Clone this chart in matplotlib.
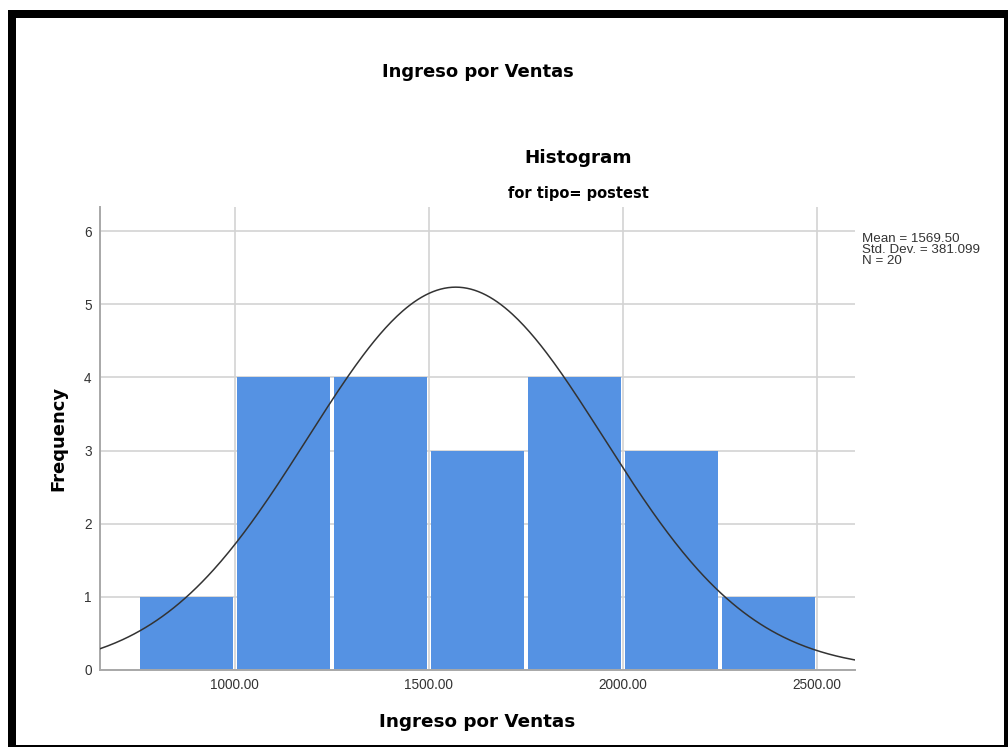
import numpy as np
import matplotlib.pyplot as plt
from matplotlib.lines import Line2D

plt.rcParams['font.family'] = ['Liberation Sans', 'DejaVu Sans']

# histogram of sales income (post test)
bin_edges = [750, 1000, 1250, 1500, 1750, 2000, 2250, 2500]
counts = [1, 4, 4, 3, 4, 3, 1]
mean_val = 1569.50
std_val = 381.099
n_val = 20
x_ticks = [1000, 1500, 2000, 2500]
y_ticks = [0, 1, 2, 3, 4, 5, 6]

fig = plt.figure(figsize=(10.08, 7.47), dpi=100)
ax = fig.add_axes([0.0992, 0.1031, 0.7490, 0.6198])

width = bin_edges[1] - bin_edges[0]
gap = 10
ax.bar(np.array(bin_edges[:-1]) + gap / 2, counts, width=width - gap, align='edge',
       color='#5592e3', linewidth=0, zorder=2)

# normal curve
xs = np.linspace(653, 2598, 400)
ys = n_val * width * np.exp(-0.5 * ((xs - mean_val) / std_val) ** 2) / (std_val * np.sqrt(2 * np.pi))
ax.plot(xs, ys, color='#333333', linewidth=1.1, zorder=3)

ax.set_xlim(653, 2598)
ax.set_ylim(0, 6.33)
ax.set_xticks(x_ticks)
ax.set_xticklabels([f'{t:.2f}' for t in x_ticks], fontsize=9.8, color='#333333')
ax.set_yticks(y_ticks)
ax.set_yticklabels([str(t) for t in y_ticks], fontsize=9.8, color='#333333')
ax.tick_params(length=0, pad=6)
ax.grid(True, color='#d3d3d3', linewidth=1.2)
ax.set_axisbelow(True)
for s in ['top', 'right']:
    ax.spines[s].set_visible(False)
for s in ['left', 'bottom']:
    ax.spines[s].set_color('#a8a8a8')
    ax.spines[s].set_linewidth(1.4)

bold = dict(fontweight='bold', family='DejaVu Sans')
ax.set_xlabel('Ingreso por Ventas', fontsize=13.2, labelpad=15, **bold)
ax.set_ylabel('Frequency', fontsize=13, labelpad=12, **bold)

fig.text(0.474, 0.903, 'Ingreso por Ventas', ha='center', va='center', fontsize=13, **bold)
fig.text(0.574, 0.788, 'Histogram', ha='center', va='center', fontsize=13.2, **bold)
fig.text(0.574, 0.741, 'for tipo= postest', ha='center', va='center', fontsize=10.5, **bold)
fig.text(0.855, 0.688, f'Mean = {mean_val:.2f}\nStd. Dev. = {std_val:.3f}\nN = {n_val}',
         ha='left', va='top', fontsize=9.6, color='#333333', linespacing=0.88)

# black frame around the picture
def px_line(x0, y0, x1, y1, lw):
    fig.add_artist(Line2D([x0 / 1008, x1 / 1008], [1 - y0 / 747, 1 - y1 / 747],
                          color='black', linewidth=lw * 0.72, solid_capstyle='butt'))

px_line(12, 10, 12, 747, 8)
px_line(8, 14, 1008, 14, 8)
px_line(1006, 10, 1006, 747, 4)
px_line(8, 746, 1008, 746, 2)

fig.savefig('out.png', dpi=100)
